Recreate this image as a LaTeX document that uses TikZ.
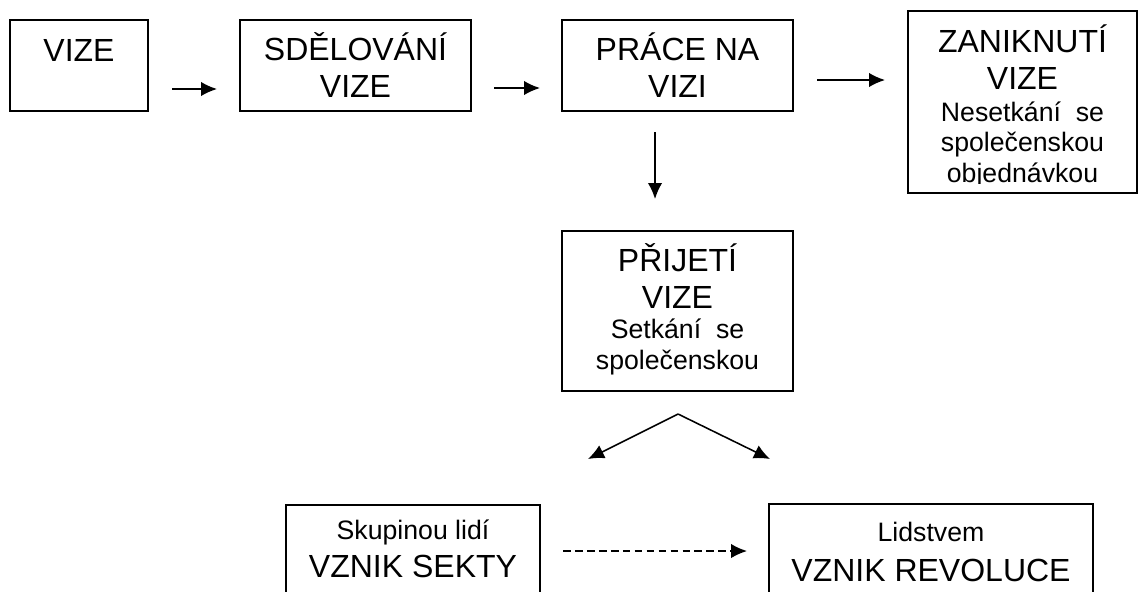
\documentclass[tikz,border=0pt]{standalone}
\usepackage{fontspec}
\setmainfont{Liberation Sans}
\usetikzlibrary{arrows.meta}

\newcommand{\bigtext}{\fontsize{22.76}{26.2}\selectfont}
\newcommand{\smalltext}{\fontsize{18.97}{21.8}\selectfont}

\tikzset{
    box/.style={draw, line width=1.1pt, inner sep=0pt},
    title/.style={font=\bigtext, align=center, inner sep=0pt, anchor=base},
    note/.style={font=\smalltext, align=center, inner sep=0pt, anchor=base},
    flow/.style={line width=1.1pt, -{Latex[length=0.4cm, width=0.36cm]}},
}

\begin{document}
\begin{tikzpicture}
    \useasboundingbox (0, 0) rectangle (28.5, -14.775);

    % boxes
    \node[box, minimum width=3.45cm, minimum height=2.275cm] (vize) at (1.975, -1.6375) {};
    \node[box, minimum width=5.775cm, minimum height=2.275cm] (sdeleni) at (8.8875, -1.6375) {};
    \node[box, minimum width=5.775cm, minimum height=2.275cm] (prace) at (16.9375, -1.6375) {};
    \node[box, minimum width=5.725cm, minimum height=4.55cm] (zanik) at (25.5625, -2.55) {};
    \node[box, minimum width=5.775cm, minimum height=4.0cm] (prijeti) at (16.9375, -7.775) {};
    \node[box, minimum width=6.35cm, minimum height=3.375cm] (sekta) at (10.325, -14.3125) {};
    \node[box, minimum width=8.1cm, minimum height=3.4cm] (revoluce) at (23.275, -14.3) {};

    % texts (base = last line)
    \node[title] (vizeT) at (1.975, -1.525) {VIZE};
    \node[title] (sdeleniT) at (8.8875, -2.425) {SDĚLOVÁNÍ\\VIZE};
    \node[title] (praceT) at (16.9375, -2.425) {PRÁCE NA\\VIZI};
    \node[title] (zanikT) at (25.5625, -2.225) {ZANIKNUTÍ\\VIZE};
    \begin{scope}
        \clip (22.7, -2.3) rectangle (28.4, -4.575);
        \node[note] (zanikN) at (25.5625, -4.56) {Nesetkání~ se\\společenskou\\objednávkou};
    \end{scope}
    \node[title] (prijetiT) at (16.9375, -7.7) {PŘIJETÍ\\VIZE};
    \node[note] (prijetiN) at (16.9375, -9.225) {Setkání~ se\\společenskou};
    \node[note] (sektaN) at (10.325, -13.475) {Skupinou lidí};
    \node[title] (sektaT) at (10.325, -14.425) {VZNIK SEKTY};
    \node[note] (revoluceN) at (23.275, -13.525) {Lidstvem};
    \node[title] (revoluceT) at (23.275, -14.525) {VZNIK REVOLUCE};

    % arrow ends
    \coordinate (a1s) at (4.3, -2.225);
    \coordinate (a1e) at (5.425, -2.225);
    \coordinate (a2s) at (12.35, -2.2);
    \coordinate (a2e) at (13.5, -2.2);
    \coordinate (a3s) at (20.425, -2.0);
    \coordinate (a3e) at (22.125, -2.0);
    \coordinate (downs) at (16.375, -3.3);
    \coordinate (downe) at (16.375, -4.975);
    \coordinate (fork) at (16.95, -10.35);
    \coordinate (forkL) at (14.7, -11.475);
    \coordinate (forkR) at (19.25, -11.475);
    \coordinate (dashs) at (14.075, -13.775);
    \coordinate (dashe) at (18.675, -13.775);

    \draw[flow] (a1s) -- (a1e);
    \draw[flow] (a2s) -- (a2e);
    \draw[flow] (a3s) -- (a3e);
    \draw[flow] (downs) -- (downe);
    \draw[flow] (fork) -- (forkL);
    \draw[flow] (fork) -- (forkR);
    \draw[flow, dash pattern=on 5.5pt off 3pt] (dashs) -- (dashe);
\end{tikzpicture}
\end{document}
